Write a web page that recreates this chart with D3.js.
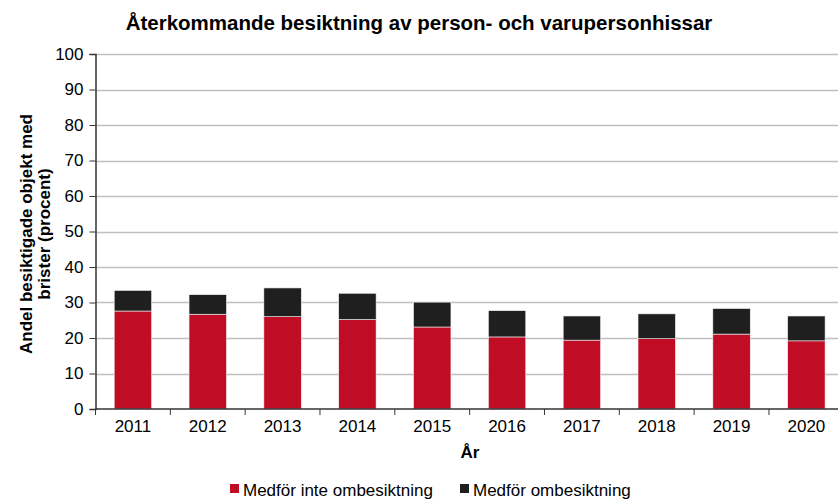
<!DOCTYPE html>
<html>
<head>
<meta charset="utf-8">
<script src="https://cdn.jsdelivr.net/npm/d3@7"></script>
<style>
  body { margin: 0; background: #fff; }
  svg { display: block; font-family: "Liberation Sans", Arial, sans-serif; }
</style>
</head>
<body>
<div id="chart"></div>
<script>
// Data
const years = ['2011', '2012', '2013', '2014', '2015', '2016', '2017', '2018', '2019', '2020'];
const ejOmbesiktning = [27.6, 26.7, 26.0, 25.2, 23.1, 20.3, 19.4, 19.8, 21.1, 19.2];
const ombesiktning = [5.8, 5.5, 8.1, 7.4, 7.0, 7.4, 6.8, 7.0, 7.2, 7.0];
const yTicks = [0, 10, 20, 30, 40, 50, 60, 70, 80, 90, 100];
const seriesNames = ['Medför inte ombesiktning', 'Medför ombesiktning'];
const colors = ['#C00D25', '#1F1F1F'];

const width = 838, height = 501;
const margin = { left: 95.5, top: 54, bottom: 409 };
const plotRight = margin.left + 748.3; // plot area runs past the right edge
const fontSize = 17;

const svg = d3.select('#chart').append('svg')
  .attr('width', width)
  .attr('height', height);

const x = d3.scaleBand()
  .domain(years)
  .range([margin.left, plotRight])
  .paddingInner(0.5)
  .paddingOuter(0.25);

const y = d3.scaleLinear()
  .domain([0, 100])
  .range([margin.bottom, margin.top]);

// Gridlines
svg.append('g')
  .selectAll('line')
  .data(yTicks.filter(d => d > 0))
  .join('line')
  .attr('x1', margin.left)
  .attr('x2', plotRight)
  .attr('y1', d => Math.round(y(d)) + 0.5)
  .attr('y2', d => Math.round(y(d)) + 0.5)
  .attr('stroke', '#bfbfbf')
  .attr('stroke-width', 1.5);

// Stacked bars
const rows = years.map((yr, i) => ({ year: yr, a: ejOmbesiktning[i], b: ombesiktning[i] }));
const stacked = d3.stack().keys(['a', 'b'])(rows);

svg.append('g')
  .selectAll('g')
  .data(stacked)
  .join('g')
  .attr('fill', (d, i) => colors[i])
  .selectAll('rect')
  .data(d => d)
  .join('rect')
  .attr('x', d => x(d.data.year))
  .attr('width', x.bandwidth())
  .attr('y', d => y(d[1]))
  .attr('height', d => y(d[0]) - y(d[1]))
  .attr('stroke', '#f2f2f2')
  .attr('stroke-width', 0.6);

// Y axis
const yAxis = svg.append('g')
  .attr('transform', `translate(${margin.left},0)`)
  .call(d3.axisLeft(y).tickValues(yTicks).tickSize(6).tickPadding(6));
yAxis.select('.domain').attr('stroke', '#333').attr('stroke-width', 1.5);
yAxis.selectAll('.tick line').attr('stroke', '#333');
yAxis.selectAll('text').attr('font-size', fontSize).attr('fill', '#000')
  .attr('font-family', '"Liberation Sans", Arial, sans-serif');

// X axis: category labels, ticks on the band boundaries
const xAxis = svg.append('g')
  .attr('transform', `translate(0,${margin.bottom})`)
  .call(d3.axisBottom(x).tickSize(0).tickPadding(11));
xAxis.select('.domain').remove();
xAxis.selectAll('text').attr('font-size', fontSize).attr('fill', '#000')
  .attr('font-family', '"Liberation Sans", Arial, sans-serif');

const bounds = d3.range(years.length + 1).map(i => margin.left + i * x.step());
svg.append('g')
  .selectAll('line')
  .data(bounds)
  .join('line')
  .attr('x1', d => d).attr('x2', d => d)
  .attr('y1', margin.bottom).attr('y2', margin.bottom + 6)
  .attr('stroke', '#333');
svg.append('line')
  .attr('x1', margin.left).attr('x2', plotRight)
  .attr('y1', margin.bottom).attr('y2', margin.bottom)
  .attr('stroke', '#333').attr('stroke-width', 1.5);

// Title
svg.append('text')
  .attr('x', 419)
  .attr('y', 30)
  .attr('text-anchor', 'middle')
  .attr('font-size', 20.5)
  .attr('font-weight', 'bold')
  .text('Återkommande besiktning av person- och varupersonhissar');

// Axis titles
svg.append('text')
  .attr('x', 470)
  .attr('y', 458)
  .attr('text-anchor', 'middle')
  .attr('font-size', fontSize)
  .attr('font-weight', 'bold')
  .text('År');

const yTitle = svg.append('text')
  .attr('transform', 'translate(32,234) rotate(-90)')
  .attr('text-anchor', 'middle')
  .attr('font-size', fontSize)
  .attr('font-weight', 'bold');
yTitle.append('tspan').attr('x', 0).attr('dy', 0).text('Andel besiktigade objekt med');
yTitle.append('tspan').attr('x', 0).attr('dy', 18).text('brister (procent)');

// Legend (kept fully inside the picture)
const legendX = [230, 460];
const legend = svg.append('g')
  .selectAll('g')
  .data(seriesNames)
  .join('g')
  .attr('transform', (d, i) => `translate(${legendX[i]},0)`);
legend.append('rect')
  .attr('x', 0).attr('y', 484)
  .attr('width', 9).attr('height', 9)
  .attr('fill', (d, i) => colors[i]);
legend.append('text')
  .attr('x', 13).attr('y', 496)
  .attr('font-size', fontSize)
  .text(d => d);
</script>
</body>
</html>
